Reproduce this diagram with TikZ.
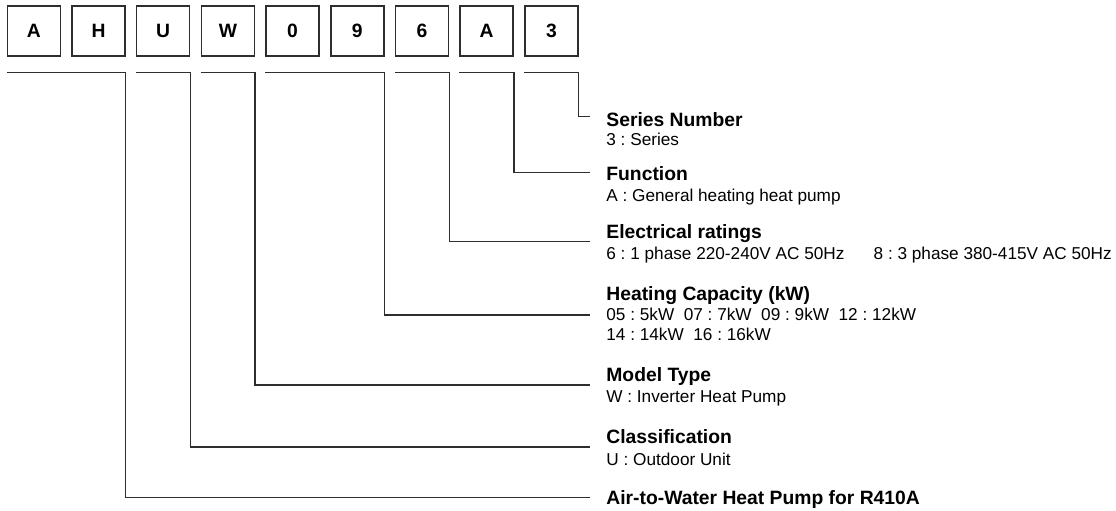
\documentclass[tikz,border=0pt]{standalone}
\usepackage{fontspec}
\setmainfont{Liberation Sans}
\usepackage{tikz}
\usetikzlibrary{calc, positioning}
\usepackage{xcolor}
\definecolor{inkline}{HTML}{2E2E2E}
\frenchspacing
\tikzset{
  codebox/.style={rectangle, draw=inkline, line width=0.75pt,
                  minimum width=26.5pt, minimum height=25pt, inner sep=0pt,
                  font=\fontsize{9.65}{11}\selectfont\bfseries},
  lead/.style={draw=inkline, line width=0.7pt},
  head/.style={anchor=base west, inner sep=0pt,
               font=\fontsize{9.65}{11}\selectfont\bfseries},
  note/.style={anchor=base west, inner sep=0pt,
               font=\fontsize{8.6}{10}\selectfont},
}

\begin{document}
\begin{tikzpicture}[x=0.5pt, y=-0.5pt]
  \useasboundingbox (0,0) rectangle (1116,510);

  % model code boxes
  \foreach \ch [count=\i from 0] in {A,H,U,W,0,9,6,A,3}
    \node [codebox] (b\i) at ({33.8+64.7*\i},31) {\ch};

  % ends of the leaders
  \coordinate (eSer) at (590,116.7);
  \coordinate (eFun) at (590,172.3);
  \coordinate (eEle) at (590,241.7);
  \coordinate (eCap) at (590,315);
  \coordinate (eMod) at (590,385);
  \coordinate (eCls) at (590,447);
  \coordinate (eAir) at (590,497.3);

  % leaders
  \draw [lead] ($(b0.south west)+(0,15.7)$) -- ($(b1.south east)+(0,15.7)$) |- (eAir);
  \draw [lead] ($(b2.south west)+(0,15.7)$) -- ($(b2.south east)+(0,15.7)$) |- (eCls);
  \draw [lead] ($(b3.south west)+(0,15.7)$) -- ($(b3.south east)+(0,15.7)$) |- (eMod);
  \draw [lead] ($(b4.south west)+(0,15.7)$) -- ($(b5.south east)+(0,15.7)$) |- (eCap);
  \draw [lead] ($(b6.south west)+(0,15.7)$) -- ($(b6.south east)+(0,15.7)$) |- (eEle);
  \draw [lead] ($(b7.south west)+(0,15.7)$) -- ($(b7.south east)+(0,15.7)$) |- (eFun);
  \draw [lead] ($(b8.south west)+(0,15.7)$) -- ($(b8.south east)+(0,15.7)$) |- (eSer);

  % descriptions
  \node [head] (serT) at (606,126) {Series Number};
  \node [note] (serD) at (606,145.5) {3 : Series};

  \node [head] (funT) at (606,180.7) {Function};
  \node [note] (funD) at (606,201.2) {A : General heating heat pump};

  \node [head] (eleT) at (606,238.3) {Electrical ratings};
  \node [note] (eleD) at (606,259.3) {6 : 1 phase 220-240V AC 50Hz\hspace{1.7em}8 : 3 phase 380-415V AC 50Hz};

  \node [head] (capT) at (606,300.7) {Heating Capacity (kW)};
  \node [note] (capD) at (606,320.7) {05 : 5kW\ \ 07 : 7kW\ \ 09 : 9kW\ \ 12 : 12kW};
  \node [note] (capE) at (606,340.7) {14 : 14kW\ \ 16 : 16kW};

  \node [head] (modT) at (606,381.7) {Model Type};
  \node [note] (modD) at (606,402.7) {W : Inverter Heat Pump};

  \node [head] (clsT) at (606,443.3) {Classification};
  \node [note] (clsD) at (606,465.5) {U : Outdoor Unit};

  \node [head] (airT) at (606,504) {Air-to-Water Heat Pump for R410A};
\end{tikzpicture}
\end{document}
